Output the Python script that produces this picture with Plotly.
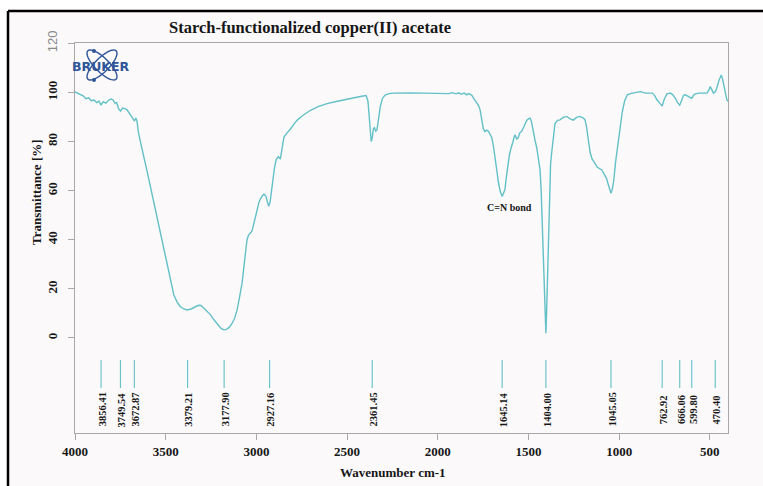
import numpy as np
import plotly.graph_objects as go

# ---- spectrum (wavenumber cm-1, transmittance %) ----
wavenumber = [
    4000, 3985, 3970, 3955, 3940, 3925, 3910, 3895, 3880, 3868, 3856, 3845, 3830, 3815,
    3800, 3790, 3780, 3770, 3760, 3749, 3738, 3725, 3713, 3700, 3690, 3680, 3672, 3665,
    3658, 3650, 3640, 3630, 3620, 3600, 3584, 3566, 3547, 3529, 3511, 3492, 3474, 3455,
    3437, 3420, 3400, 3382, 3360, 3340, 3320, 3305, 3290, 3270, 3254, 3235, 3215, 3195,
    3180, 3165, 3150, 3135, 3120, 3107, 3093, 3079, 3065, 3052, 3044, 3035, 3024, 3010,
    2997, 2985, 2970, 2958, 2948, 2940, 2932, 2924, 2914, 2900, 2890, 2878, 2868, 2858,
    2848, 2830, 2813, 2790, 2776, 2750, 2704, 2660, 2611, 2560, 2520, 2460, 2420, 2395,
    2385, 2378, 2372, 2367, 2361, 2355, 2349, 2342, 2335, 2326, 2317, 2305, 2290, 2270,
    2244, 2150, 2050, 1987, 1940, 1920, 1900, 1885, 1870, 1855, 1840, 1830, 1822, 1812,
    1804, 1790, 1775, 1767, 1758, 1749, 1740, 1730, 1721, 1712, 1702, 1693, 1684, 1675,
    1666, 1655, 1645, 1638, 1630, 1622, 1615, 1605, 1598, 1592, 1586, 1580, 1574, 1565,
    1556, 1548, 1537, 1525, 1510, 1500, 1491, 1484, 1473, 1463, 1454, 1445, 1436, 1430,
    1424, 1418, 1412, 1406, 1404, 1402, 1398, 1393, 1388, 1383, 1378, 1372, 1363, 1354,
    1340, 1326, 1308, 1289, 1270, 1253, 1235, 1216, 1200, 1189, 1180, 1171, 1160, 1150,
    1135, 1120, 1096, 1070, 1058, 1045, 1038, 1030, 1020, 1008, 995, 983, 970, 955,
    935, 910, 883, 855, 818, 805, 791, 775, 763, 750, 736, 718, 704, 690,
    678, 666, 655, 645, 635, 625, 614, 600, 590, 580, 560, 543, 516, 505,
    498, 490, 480, 470, 462, 450, 437, 430, 424, 415, 406, 400,
]
transmittance = [
    100.2, 99.6, 99.0, 98.6, 97.4, 97.8, 96.6, 96.9, 95.8, 96.4, 94.8, 96.2, 95.6, 96.8,
    97.3, 96.9, 95.6, 95.8, 93.4, 92.4, 93.6, 93.4, 92.9, 91.4, 90.2, 89.0, 88.3, 89.6,
    88.2, 83.5, 80.5, 77.2, 73.5, 67.0, 61.5, 54.5, 49.0, 43.0, 36.5, 30.0, 22.8, 17.5,
    14.6, 12.8, 11.8, 11.4, 11.8, 12.6, 13.3, 13.2, 12.2, 10.8, 9.5, 7.5, 5.5, 3.9,
    3.3, 3.5, 4.3, 5.8, 8.0, 11.2, 16.5, 22.3, 31.5, 39.8, 41.8, 42.5, 43.6, 47.8,
    52.0, 55.5, 57.6, 58.6, 57.8, 55.5, 53.6, 55.5, 62.5, 69.5, 72.8, 73.8, 72.8, 78.5,
    81.8, 83.6, 85.0, 87.4, 88.6, 90.3, 92.6, 94.2, 95.4, 96.3, 97.0, 97.8, 98.4, 98.7,
    96.5, 90.0, 82.5, 80.0, 81.5, 85.2, 85.6, 84.2, 84.8, 89.5, 94.2, 97.6, 98.9, 99.5,
    99.7, 99.8, 99.7, 99.8, 99.5, 99.9, 99.4, 99.8, 99.2, 99.7, 99.0, 99.5, 99.3, 98.8,
    97.8, 96.2, 94.6, 93.0, 89.0, 85.2, 84.0, 84.6, 84.2, 82.8, 81.5, 78.0, 73.9, 68.5,
    63.5, 59.5, 57.6, 59.2, 60.3, 65.5, 69.8, 74.5, 76.8, 77.9, 79.8, 81.5, 82.7, 81.0,
    81.6, 83.5, 84.2, 86.0, 88.6, 89.2, 89.5, 88.3, 83.6, 80.2, 77.3, 72.5, 68.4, 60.0,
    48.0, 34.5, 20.0, 6.0, 1.9, 6.0, 16.0, 32.0, 48.0, 62.0, 71.0, 75.5, 82.5, 87.2,
    88.6, 88.8, 89.8, 90.2, 89.2, 88.7, 89.8, 90.2, 89.6, 89.0, 86.0, 80.5, 75.5, 73.0,
    71.0, 69.5, 68.4, 65.0, 62.0, 58.9, 60.5, 64.0, 71.5, 78.5, 86.0, 92.0, 96.5, 99.0,
    99.6, 99.8, 100.3, 99.7, 99.7, 98.8, 96.9, 95.5, 94.4, 97.5, 99.4, 99.7, 99.0, 97.6,
    95.8, 94.8, 96.8, 98.8, 99.0, 98.6, 98.3, 97.6, 98.8, 99.4, 99.7, 99.7, 99.7, 101.0,
    102.4, 101.2, 99.7, 100.2, 101.7, 104.8, 107.1, 105.5, 103.7, 100.0, 96.9, 96.3,
]

# ---- picked peaks ----
peak_wn = [3856.41, 3749.54, 3672.87, 3379.21, 3177.90, 2927.16, 2361.45,
           1645.14, 1404.00, 1045.05, 762.92, 666.06, 599.80, 470.40]

# ---- axis ticks ----
x_ticks = [4000, 3500, 3000, 2500, 2000, 1500, 1000, 500]
y_ticks = [0, 20, 40, 60, 80, 100, 120]

W, H = 763, 486
ML, MR, MT, MB = 75, 35, 43, 53
TEAL = "#62c0c7"
INK = "#161616"
LOGO = "#2d5598"
SERIF = "Liberation Serif"


def px(x):
    return (x - ML) / (W - ML - MR)


def py(y):
    return (H - MB - y) / (H - MT - MB)


fig = go.Figure()

fig.add_trace(go.Scatter(
    x=wavenumber, y=transmittance, mode="lines",
    line=dict(color=TEAL, width=1.4), hoverinfo="skip", showlegend=False,
))

# peak marker ticks below the spectrum
tick_x, tick_y = [], []
for w in peak_wn:
    tick_x += [w, w, None]
    tick_y += [-9.0, -20.4, None]
fig.add_trace(go.Scatter(
    x=tick_x, y=tick_y, mode="lines",
    line=dict(color=TEAL, width=1.1), hoverinfo="skip", showlegend=False,
))

annotations = []
for w in peak_wn:
    annotations.append(dict(
        x=w, y=-29.2, xref="x", yref="y", text=f"<b>{w:.2f}</b>",
        textangle=-90, showarrow=False, xshift=1.5,
        xanchor="center", yanchor="middle",
        font=dict(family=SERIF, size=10.5, color=INK),
    ))


def paper_text(x, y, text, size, angle=0, family=SERIF, color=INK):
    return dict(x=px(x), y=py(y), xref="paper", yref="paper", text=text,
                textangle=angle, showarrow=False, xanchor="center", yanchor="middle",
                font=dict(family=family, size=size, color=color))


annotations += [
    dict(x=1602, y=53, xref="x", yref="y", text="<b>C=N bond</b>", showarrow=False,
         xanchor="center", yanchor="middle",
         font=dict(family=SERIF, size=10, color=INK)),
    paper_text(310, 28, "<b>Starch-functionalized copper(II) acetate</b>", 16.5),
    paper_text(36, 192, "<b>Transmittance [%]</b>", 13, angle=-90),
    paper_text(393, 472, "<b>Wavenumber cm-1</b>", 13),
    paper_text(101, 66, "<b>BRUKER</b>", 12.5, family="DejaVu Sans", color=LOGO),
]

shapes = [
    # page background and black frame
    dict(type="rect", xref="paper", yref="paper", x0=px(8), x1=px(W + 5), y0=py(11), y1=py(H + 5),
         fillcolor="#fbf9fa", line=dict(width=0), layer="below"),
    dict(type="line", xref="paper", yref="paper", x0=px(8), x1=px(8), y0=py(11), y1=py(H + 5),
         line=dict(color="#000000", width=2.5)),
    dict(type="line", xref="paper", yref="paper", x0=px(8), x1=px(W + 5), y0=py(11), y1=py(11),
         line=dict(color="#000000", width=2.5)),
]

# logo: two crossed orbit ellipses
t = np.linspace(0, 2 * np.pi, 60)
for ang in (np.pi / 4, -np.pi / 4):
    ex = 102 + 20 * np.cos(t) * np.cos(ang) - 7 * np.sin(t) * np.sin(ang)
    ey = 65 + 20 * np.cos(t) * np.sin(ang) + 7 * np.sin(t) * np.cos(ang)
    path = "M " + " L ".join(f"{px(a):.5f},{py(b):.5f}" for a, b in zip(ex, ey)) + " Z"
    shapes.append(dict(type="path", xref="paper", yref="paper", path=path,
                       line=dict(color=LOGO, width=1.4), layer="below"))
for cx, cy in ((94, 51), (94, 80)):
    shapes.append(dict(type="circle", xref="paper", yref="paper",
                       x0=px(cx - 2), x1=px(cx + 2), y0=py(cy + 2), y1=py(cy - 2),
                       fillcolor=LOGO, line=dict(width=0)))

y_text = [f"<b>{v}</b>" for v in y_ticks[:-1]] + [
    f"<span style='font-family:Liberation Sans;font-weight:normal;fill:#8a8a8a'>{y_ticks[-1]}</span>"]

fig.update_layout(
    width=W, height=H,
    margin=dict(l=ML, r=MR, t=MT, b=MB, pad=0),
    paper_bgcolor="#ffffff", plot_bgcolor="rgba(0,0,0,0)",
    showlegend=False,
    annotations=annotations, shapes=shapes,
    xaxis=dict(
        range=[4000, 400], tickvals=x_ticks, ticktext=[f"<b>{v}</b>" for v in x_ticks],
        showgrid=False, zeroline=False, showline=True, linecolor="#a8a8a8", linewidth=1,
        mirror=True, ticks="outside", ticklen=6, tickcolor="#a8a8a8",
        ticklabelstandoff=0,
        tickfont=dict(family=SERIF, size=13, color=INK),
    ),
    yaxis=dict(
        range=[-38.7, 120.1], tickvals=y_ticks, ticktext=y_text, tickangle=-90,
        showgrid=False, zeroline=False, showline=True, linecolor="#a8a8a8", linewidth=1,
        mirror=True, ticks="outside", ticklen=6, tickcolor="#a8a8a8",
        ticklabelstandoff=6,
        tickfont=dict(family=SERIF, size=13, color=INK),
    ),
)

fig.write_html("out.html")
